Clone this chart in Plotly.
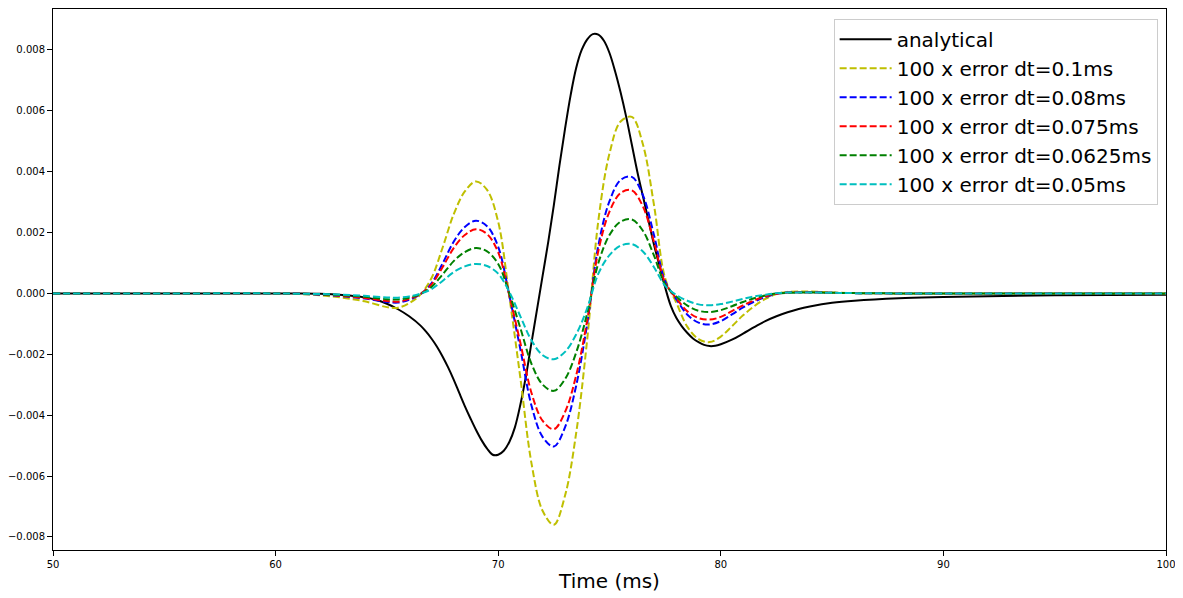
import plotly.graph_objects as go

# Time samples (ms) for the error curves
time_ms = [50, 55, 60, 61, 62, 63, 64, 65, 65.5, 66, 66.5, 67, 67.5, 68, 68.5, 69, 69.5,
           70, 70.5, 71, 71.5, 72, 72.5, 73, 73.5, 74, 74.5, 75, 75.5, 76, 76.5, 77, 77.5,
           78, 78.5, 79, 79.5, 80, 80.5, 81, 81.5, 82, 82.5, 83, 84, 85, 86, 88, 90, 92, 95, 100]

# Time samples (ms) for the analytical curve
time_ms_analytical = [50, 55, 60, 61, 62, 63, 64, 64.5, 65, 65.5, 66, 66.5, 66.75, 67, 67.25,
                      67.5, 67.75, 68, 68.25, 68.5, 68.75, 69, 69.25, 69.5, 69.75, 70, 70.25,
                      70.5, 70.75, 71, 71.25, 71.5, 71.75, 72, 72.25, 72.5, 72.75, 73, 73.25,
                      73.5, 73.75, 74, 74.25, 74.5, 74.75, 75, 75.25, 75.5, 75.75, 76, 76.25,
                      76.5, 76.75, 77, 77.25, 77.5, 77.75, 78, 78.25, 78.5, 78.75, 79, 79.25,
                      79.5, 79.75, 80, 80.5, 81, 81.5, 82, 82.5, 83, 83.5, 84, 85, 86, 88, 90,
                      92, 95, 100]

analytical = [0, 0, 0, 0, -0.00001, -0.00005, -0.00013, -0.00021, -0.00034, -0.00052,
              -0.00075, -0.00105, -0.00125, -0.00148, -0.00175,
              -0.00207, -0.00243, -0.00283, -0.00327, -0.0037, -0.0041, -0.00448, -0.00482,
              -0.0051, -0.0053, -0.0053, -0.00517,
              -0.00488, -0.0044, -0.00364, -0.0027, -0.0016, -0.0005, 0.0006, 0.0017,
              0.0029, 0.0042, 0.0054, 0.0065,
              0.0074, 0.008, 0.00835, 0.00852, 0.0085, 0.0083, 0.0079, 0.0073, 0.0066,
              0.0058, 0.0049, 0.004,
              0.0032, 0.0024, 0.0016, 0.0009, 0.0002, -0.0004, -0.0008, -0.00108,
              -0.0013, -0.00148, -0.0016, -0.00169,
              -0.00173, -0.00172, -0.00167, -0.00152, -0.00132, -0.00111, -0.00091,
              -0.00075, -0.00062, -0.00051, -0.00043, -0.00031, -0.00024, -0.00016, -0.00012,
              -0.00009, -0.00006, -0.00004]

err_dt_0100 = [0, 0, 0, -0.00002, -0.00006, -0.00014, -0.00026, -0.00045, -0.00047, -0.00032,
               -0.00004, 0.0005, 0.0015, 0.0026, 0.00335, 0.00368, 0.0034,
               0.00235, -0.0001, -0.0028, -0.0056, -0.00715, -0.0076, -0.00665, -0.0046, -0.0015,
               0.0024, 0.0046, 0.00565, 0.0058, 0.0049, 0.0029, 0.0005,
               -0.0003, -0.0011, -0.0015, -0.0016, -0.00142, -0.00108, -0.00072, -0.00042,
               -0.00018, -0.00002, 0.00005, 0.00006, 0.00003, 0.00001, 0, 0, 0, 0, 0]

err_dt_0080 = [0, 0, 0, -0.00001, -0.00004, -0.00009, -0.00017, -0.00028, -0.0003, -0.00021,
               -0.00003, 0.00033, 0.00098, 0.0017, 0.00218, 0.00239, 0.00221,
               0.00153, -0.00007, -0.00185, -0.0037, -0.00472, -0.00503, -0.0044, -0.00304,
               -0.00099, 0.00158, 0.00303, 0.00373, 0.00383, 0.00323, 0.00191, 0.0004,
               -0.00019, -0.0007, -0.00096, -0.00102, -0.00091, -0.00069, -0.00046, -0.00027,
               -0.00012, -0.00001, 0.00003, 0.00004, 0.00002, 0.00001, 0, 0, 0, 0, 0]

err_dt_0075 = [0, 0, 0, -0.00001, -0.00003, -0.00008, -0.00015, -0.00025, -0.00027, -0.00018,
               -0.00002, 0.00029, 0.00086, 0.00149, 0.00192, 0.00211, 0.00195,
               0.00135, -0.00006, -0.00164, -0.00328, -0.00419, -0.00446, -0.0039, -0.0027,
               -0.00088, 0.0014, 0.00269, 0.0033, 0.00339, 0.00286, 0.00169, 0.00035,
               -0.00016, -0.00059, -0.00081, -0.00086, -0.00077, -0.00058, -0.00039, -0.00023,
               -0.0001, -0.00001, 0.00003, 0.00003, 0.00002, 0.00001, 0, 0, 0, 0, 0]

err_dt_0625 = [0, 0, 0, -0.00001, -0.00003, -0.00006, -0.00011, -0.00019, -0.0002, -0.00014,
               -0.00002, 0.00021, 0.00062, 0.00106, 0.00136, 0.00149, 0.00138,
               0.00097, 0.0, -0.00115, -0.00232, -0.003, -0.0032, -0.00282, -0.00195,
               -0.00065, 0.001, 0.00192, 0.00236, 0.00243, 0.00206, 0.00124, 0.0003,
               -0.0001, -0.0004, -0.00057, -0.00061, -0.00055, -0.00042, -0.00028, -0.00016,
               -0.00007, 0.0, 0.00002, 0.00003, 0.00002, 0.00001, 0, 0, 0, 0, 0]

err_dt_0050 = [0, 0, 0, -0.00001, -0.00002, -0.00004, -0.00008, -0.00013, -0.00014, -0.0001,
               -0.00001, 0.00014, 0.00041, 0.0007, 0.00089, 0.00097, 0.0009,
               0.00065, 0.00005, -0.00076, -0.00155, -0.00203, -0.00216, -0.00192, -0.00135,
               -0.00048, 0.00065, 0.00126, 0.00157, 0.00162, 0.00138, 0.00086, 0.00025,
               -0.00005, -0.00024, -0.00036, -0.00039, -0.00035, -0.00027, -0.00018, -0.0001,
               -0.00004, 0.00001, 0.00003, 0.00003, 0.00002, 0.00001, 0, 0, 0, 0, 0]

series_names = ["analytical", "100 x error dt=0.1ms", "100 x error dt=0.08ms",
                "100 x error dt=0.075ms", "100 x error dt=0.0625ms", "100 x error dt=0.05ms"]
series_x = [time_ms_analytical, time_ms, time_ms, time_ms, time_ms, time_ms]
series_values = [analytical, err_dt_0100, err_dt_0080, err_dt_0075, err_dt_0625, err_dt_0050]
series_colors = ["#000000", "#bfbf00", "#0000ff", "#ff0000", "#008000", "#00bfbf"]
series_dash = ["solid", "7px,3px", "7px,3px", "7px,3px", "7px,3px", "7px,3px"]

x_tick_vals = [50, 60, 70, 80, 90, 100]
y_tick_vals = [-0.008, -0.006, -0.004, -0.002, 0.0, 0.002, 0.004, 0.006, 0.008]
y_tick_text = ["\u22120.008", "\u22120.006", "\u22120.004", "\u22120.002", "0.000",
               "0.002", "0.004", "0.006", "0.008"]

fig = go.Figure()
for name, xs, vals, col, dash in zip(series_names, series_x, series_values, series_colors, series_dash):
    fig.add_trace(go.Scatter(
        x=xs, y=vals, mode="lines", name=name,
        line=dict(color=col, width=2, dash=dash, shape="spline", smoothing=1.0),
    ))

axis_common = dict(showline=True, linecolor="black", linewidth=1, mirror=True,
                   ticks="outside", ticklen=5, tickwidth=1, tickcolor="black",
                   showgrid=False, zeroline=False,
                   tickfont=dict(family="DejaVu Sans", size=10, color="black"))

fig.update_layout(
    width=1175, height=590,
    margin=dict(l=43, r=17, t=0, b=48),
    paper_bgcolor="white", plot_bgcolor="white",
    font=dict(family="DejaVu Sans", color="black"),
    xaxis=dict(range=[50, 100], tickvals=x_tick_vals,
               title=dict(text="Time (ms)", font=dict(size=20, family="DejaVu Sans"), standoff=4),
               **axis_common),
    yaxis=dict(range=[-0.00843, 0.009345], tickvals=y_tick_vals, ticktext=y_tick_text,
               **axis_common),
    legend=dict(x=0.9925, y=0.982, xanchor="right", yanchor="top",
                bgcolor="rgba(255,255,255,0.8)", bordercolor="#cccccc", borderwidth=1,
                font=dict(size=20, family="DejaVu Sans", color="black"),
                tracegroupgap=0, itemwidth=52),
    showlegend=True,
)

fig.write_html("out.html")
